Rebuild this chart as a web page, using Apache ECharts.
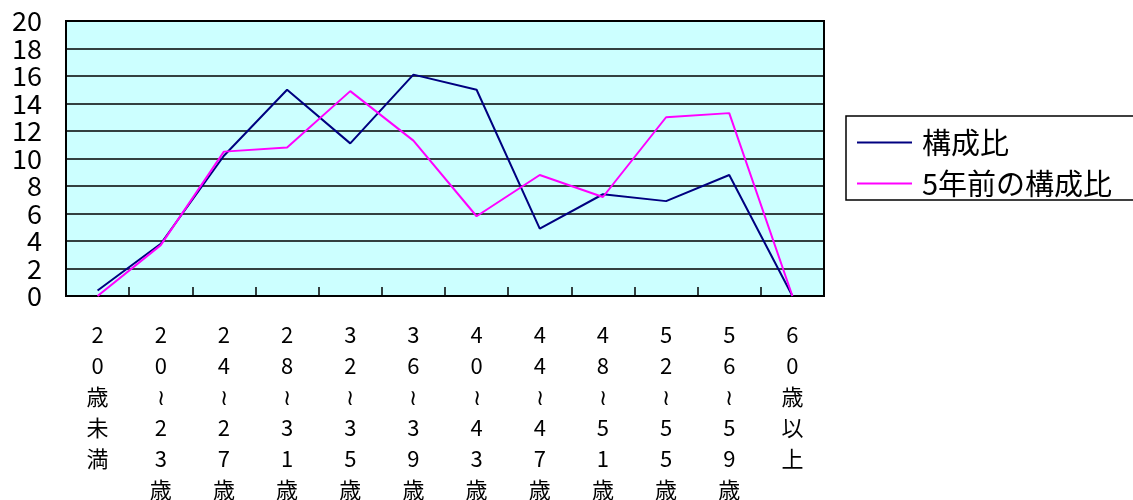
<!DOCTYPE html>
<html>
<head>
<meta charset="utf-8">
<script src="https://cdn.jsdelivr.net/npm/echarts@6/dist/echarts.min.js"></script>
<style>
html,body{margin:0;padding:0;background:#fff;}
#chart{width:1133px;height:500px;}
</style>
</head>
<body>
<div id="chart"></div>
<script>
const categories = ['20歳未満','20～23歳','24～27歳','28～31歳','32～35歳','36～39歳','40～43歳','44～47歳','48～51歳','52～55歳','56～59歳','60歳以上'];
const seriesNames = ['構成比','5年前の構成比'];
const current = [0.4, 3.8, 10.2, 15.0, 11.1, 16.1, 15.0, 4.9, 7.4, 6.9, 8.8, 0.0];
const fiveYearsAgo = [0.0, 3.7, 10.5, 10.8, 14.9, 11.3, 5.8, 8.8, 7.2, 13.0, 13.3, 0.0];
const yTicks = [0, 2, 4, 6, 8, 10, 12, 14, 16, 18, 20];

const FONT = '"Noto Sans CJK JP", "Noto Sans", sans-serif';
const chart = echarts.init(document.getElementById('chart'), null, {renderer: 'canvas'});
chart.setOption({
  animation: false,
  backgroundColor: '#ffffff',
  textStyle: {fontFamily: FONT, color: '#000'},
  grid: {
    left: 66, right: 309, top: 21, bottom: 204,
    containLabel: false,
    outerBoundsMode: 'none',
    show: true, backgroundColor: '#CCFFFF', borderColor: '#000', borderWidth: 2
  },
  legend: {
    orient: 'vertical',
    left: 846, top: 116,
    padding: [12, 40, 2, 11],
    itemGap: 12,
    itemWidth: 55, itemHeight: 2,
    icon: 'rect',
    borderColor: '#000', borderWidth: 1.5,
    backgroundColor: '#fff',
    textStyle: {fontFamily: FONT, fontSize: 29, color: '#000', padding: [0, 0, 0, 5]},
    data: seriesNames
  },
  xAxis: {
    type: 'category',
    data: categories,
    boundaryGap: true,
    axisLine: {show: true, lineStyle: {color: '#000', width: 2}},
    axisTick: {show: true, inside: true, length: 9, lineStyle: {color: '#000', width: 1.5}},
    axisLabel: {
      interval: 0,
      margin: 23,
      fontFamily: FONT, fontSize: 22, lineHeight: 31, color: '#000',
      formatter: v => v.split('').map(c => c === '～' ? '≀' : c).join('\n')
    },
    splitLine: {show: false}
  },
  yAxis: {
    type: 'value',
    min: yTicks[0], max: yTicks[yTicks.length - 1], interval: 2,
    axisLine: {show: true, lineStyle: {color: '#000', width: 2}},
    axisTick: {show: false},
    axisLabel: {fontFamily: FONT, fontSize: 27, color: '#000', margin: 24, showMinLabel: true, showMaxLabel: true, hideOverlap: false},
    splitLine: {show: true, lineStyle: {color: '#000', width: 1.5}}
  },
  series: [
    {
      name: seriesNames[0], type: 'line', data: current,
      symbol: 'none', color: '#000080',
      lineStyle: {color: '#000080', width: 2}
    },
    {
      name: seriesNames[1], type: 'line', data: fiveYearsAgo,
      symbol: 'none', color: '#FF00FF',
      lineStyle: {color: '#FF00FF', width: 2}
    }
  ]
});
</script>
</body>
</html>
